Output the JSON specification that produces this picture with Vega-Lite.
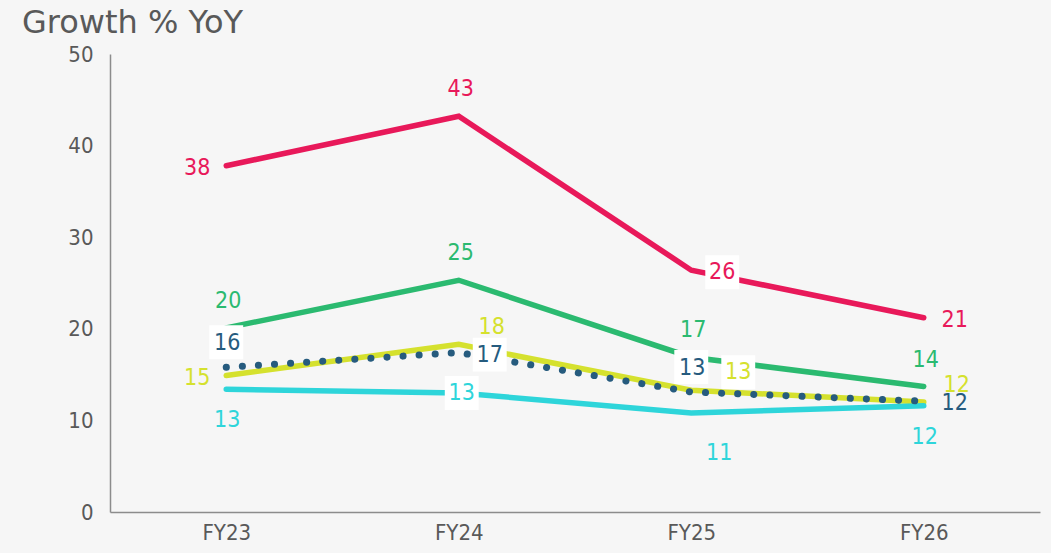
{
  "$schema": "https://vega.github.io/schema/vega-lite/v6.json",
  "autosize": {"type": "none"},
  "width": 930,
  "height": 458,
  "padding": {"left": 110, "top": 54, "right": 11, "bottom": 41},
  "background": "#f6f6f6",
  "title": {
    "text": "Growth % YoY",
    "anchor": "start",
    "frame": "group",
    "dx": -88,
    "offset": 3,
    "fontSize": 32,
    "fontWeight": "normal",
    "color": "#595959",
    "font": "DejaVu Sans"
  },
  "config": {
    "view": {"stroke": null},
    "font": "DejaVu Sans Condensed, DejaVu Sans"
  },
  "data": {
    "values": [
      {"series": "S1", "year": "FY23", "value": 37.8},
      {"series": "S1", "year": "FY24", "value": 43.2},
      {"series": "S1", "year": "FY25", "value": 26.4},
      {"series": "S1", "year": "FY26", "value": 21.2},
      {"series": "S2", "year": "FY23", "value": 20.1},
      {"series": "S2", "year": "FY24", "value": 25.3},
      {"series": "S2", "year": "FY25", "value": 16.9},
      {"series": "S2", "year": "FY26", "value": 13.7},
      {"series": "S3", "year": "FY23", "value": 14.9},
      {"series": "S3", "year": "FY24", "value": 18.3},
      {"series": "S3", "year": "FY25", "value": 13.3},
      {"series": "S3", "year": "FY26", "value": 12.0},
      {"series": "S4", "year": "FY23", "value": 15.8},
      {"series": "S4", "year": "FY24", "value": 17.4},
      {"series": "S4", "year": "FY25", "value": 13.1},
      {"series": "S4", "year": "FY26", "value": 12.1},
      {"series": "S5", "year": "FY23", "value": 13.4},
      {"series": "S5", "year": "FY24", "value": 13.0},
      {"series": "S5", "year": "FY25", "value": 10.8},
      {"series": "S5", "year": "FY26", "value": 11.6}
    ]
  },
  "encoding": {
    "x": {
      "field": "year",
      "type": "ordinal",
      "scale": {"type": "point", "padding": 0.5},
      "axis": {
        "title": null,
        "labelAngle": 0,
        "ticks": false,
        "labelFontSize": 22,
        "labelColor": "#595959",
        "labelPadding": 10,
        "domainColor": "#8c8c8c",
        "domainWidth": 1.5,
        "grid": false
      }
    },
    "y": {
      "field": "value",
      "type": "quantitative",
      "scale": {"domain": [0, 50], "nice": false, "zero": true},
      "axis": {
        "title": null,
        "values": [0, 10, 20, 30, 40, 50],
        "ticks": false,
        "grid": false,
        "labelFontSize": 22,
        "labelColor": "#595959",
        "labelPadding": 17,
        "domainColor": "#8c8c8c",
        "domainWidth": 1.5
      }
    },
    "color": {
      "field": "series",
      "type": "nominal",
      "legend": null,
      "scale": {
        "domain": ["S1", "S2", "S3", "S4", "S5"],
        "range": ["#E8195A", "#2BBA70", "#D5E12E", "#265B7E", "#2ED5DA"]
      }
    }
  },
  "layer": [
    {
      "transform": [{"filter": "datum.series != 'S4'"}],
      "mark": {"type": "line", "strokeWidth": 5.5, "strokeCap": "round", "strokeJoin": "miter"}
    },
    {
      "transform": [{"filter": "datum.series == 'S4'"}],
      "mark": {"type": "line", "strokeWidth": 7, "strokeCap": "round", "strokeDash": [0.1, 16]}
    },
    {
      "transform": [{"filter": "indexof(['S4|FY23','S4|FY25'], datum.series + '|' + datum.year) >= 0"}],
      "mark": {"type": "point", "shape": "square", "filled": true, "size": 1150, "opacity": 1, "yOffset": -25},
      "encoding": {"color": {"value": "white"}}
    },
    {
      "transform": [{"filter": "indexof(['S1|FY25','S4|FY24'], datum.series + '|' + datum.year) >= 0"}],
      "mark": {"type": "point", "shape": "square", "filled": true, "size": 1150, "opacity": 1, "xOffset": 31, "yOffset": 2},
      "encoding": {"color": {"value": "white"}}
    },
    {
      "transform": [{"filter": "datum.series == 'S3' && datum.year == 'FY25'"}],
      "mark": {"type": "point", "shape": "square", "filled": true, "size": 1150, "opacity": 1, "xOffset": 47, "yOffset": -18},
      "encoding": {"color": {"value": "white"}}
    },
    {
      "transform": [{"filter": "datum.series == 'S5' && datum.year == 'FY24'"}],
      "mark": {"type": "point", "shape": "square", "filled": true, "size": 1150, "opacity": 1, "xOffset": 3, "yOffset": 0},
      "encoding": {"color": {"value": "white"}}
    },
    {
      "transform": [{"filter": "indexof(['S1|FY23','S3|FY23'], datum.series + '|' + datum.year) >= 0"}],
      "mark": {"type": "text", "fontSize": 23, "align": "center", "baseline": "middle", "dx": -29, "dy": 2},
      "encoding": {"text": {"field": "value", "format": ".0f"}}
    },
    {
      "transform": [{"filter": "indexof(['S1|FY24','S2|FY23','S2|FY24','S2|FY25','S2|FY26'], datum.series + '|' + datum.year) >= 0"}],
      "mark": {"type": "text", "fontSize": 23, "align": "center", "baseline": "middle", "dx": 2, "dy": -27},
      "encoding": {"text": {"field": "value", "format": ".0f"}}
    },
    {
      "transform": [{"filter": "indexof(['S4|FY23','S4|FY25'], datum.series + '|' + datum.year) >= 0"}],
      "mark": {"type": "text", "fontSize": 23, "align": "center", "baseline": "middle", "dx": 1, "dy": -24},
      "encoding": {"text": {"field": "value", "format": ".0f"}}
    },
    {
      "transform": [{"filter": "indexof(['S1|FY25','S1|FY26','S4|FY24','S4|FY26'], datum.series + '|' + datum.year) >= 0"}],
      "mark": {"type": "text", "fontSize": 23, "align": "center", "baseline": "middle", "dx": 31, "dy": 2},
      "encoding": {"text": {"field": "value", "format": ".0f"}}
    },
    {
      "transform": [{"filter": "indexof(['S3|FY24','S3|FY26'], datum.series + '|' + datum.year) >= 0"}],
      "mark": {"type": "text", "fontSize": 23, "align": "center", "baseline": "middle", "dx": 33, "dy": -17},
      "encoding": {"text": {"field": "value", "format": ".0f"}}
    },
    {
      "transform": [{"filter": "datum.series == 'S3' && datum.year == 'FY25'"}],
      "mark": {"type": "text", "fontSize": 23, "align": "center", "baseline": "middle", "dx": 47, "dy": -18},
      "encoding": {"text": {"field": "value", "format": ".0f"}}
    },
    {
      "transform": [{"filter": "indexof(['S5|FY23','S5|FY26'], datum.series + '|' + datum.year) >= 0"}],
      "mark": {"type": "text", "fontSize": 23, "align": "center", "baseline": "middle", "dx": 1, "dy": 31},
      "encoding": {"text": {"field": "value", "format": ".0f"}}
    },
    {
      "transform": [{"filter": "datum.series == 'S5' && datum.year == 'FY25'"}],
      "mark": {"type": "text", "fontSize": 23, "align": "center", "baseline": "middle", "dx": 28, "dy": 40},
      "encoding": {"text": {"field": "value", "format": ".0f"}}
    },
    {
      "transform": [{"filter": "datum.series == 'S5' && datum.year == 'FY24'"}],
      "mark": {"type": "text", "fontSize": 23, "align": "center", "baseline": "middle", "dx": 3, "dy": 0},
      "encoding": {"text": {"field": "value", "format": ".0f"}}
    }
  ]
}
